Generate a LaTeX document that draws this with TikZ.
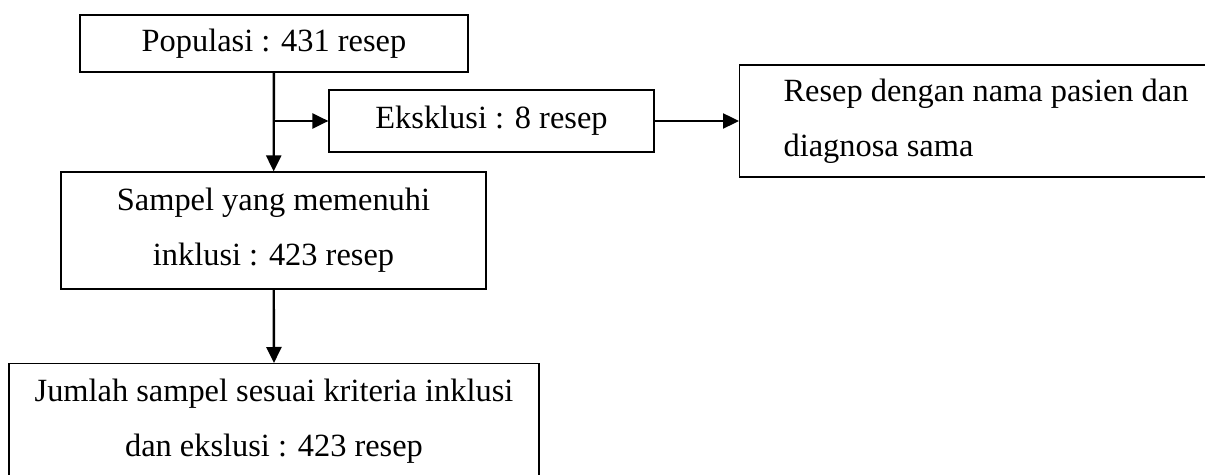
\documentclass[tikz,border=0pt]{standalone}
\usepackage{fontspec}
\setmainfont{Liberation Serif}
\usetikzlibrary{arrows.meta,positioning,calc}

\begin{document}
\begin{tikzpicture}[
    x=0.5pt, y=-0.5pt,
    font=\fontsize{16.2pt}{27.5pt}\selectfont,
    boxNode/.style={
        rectangle, draw=black, line width=0.6pt, fill=white,
        align=center, inner sep=0pt
    },
    noteNode/.style={
        rectangle, draw=black, line width=0.6pt, fill=white,
        text width=240pt, align=left, inner xsep=22pt, inner ysep=0pt
    },
    flowArrow/.style={
        -{Triangle[length=8pt, width=7.5pt]}, line width=1.2pt, draw=black
    }
]
\useasboundingbox (0,0) rectangle (1205,475);

% Nodes
\node[boxNode, minimum width=194pt, minimum height=28.5pt] (populasi) at (274,43.5)
    {Populasi : 431 resep};

\node[boxNode, minimum width=162.5pt, minimum height=31pt] (eksklusi) at (491.5,121)
    {Eksklusi : 8 resep};

\node[noteNode, minimum height=56pt, anchor=west] (alasan) at (739,121)
    {\spaceskip=0pt\xspaceskip=0pt\relax Resep dengan nama pasien dan\\diagnosa sama};

\node[boxNode, minimum width=212.5pt, minimum height=58.5pt] (sampel) at (273.5,230.5)
    {Sampel yang memenuhi\\inklusi : 423 resep};

\node[boxNode, minimum width=265pt, minimum height=57.5pt, anchor=north] (jumlah) at (274,363)
    {Jumlah sampel sesuai kriteria inklusi\\dan ekslusi : 423 resep};

\coordinate (cabang) at (populasi.south |- eksklusi.west);

% Arrows
\draw[flowArrow] (populasi) -- (sampel);
\draw[flowArrow] (cabang) -- (eksklusi);
\draw[flowArrow] (eksklusi) -- (alasan);
\draw[flowArrow] (sampel) -- (jumlah.north);

\end{tikzpicture}
\end{document}
